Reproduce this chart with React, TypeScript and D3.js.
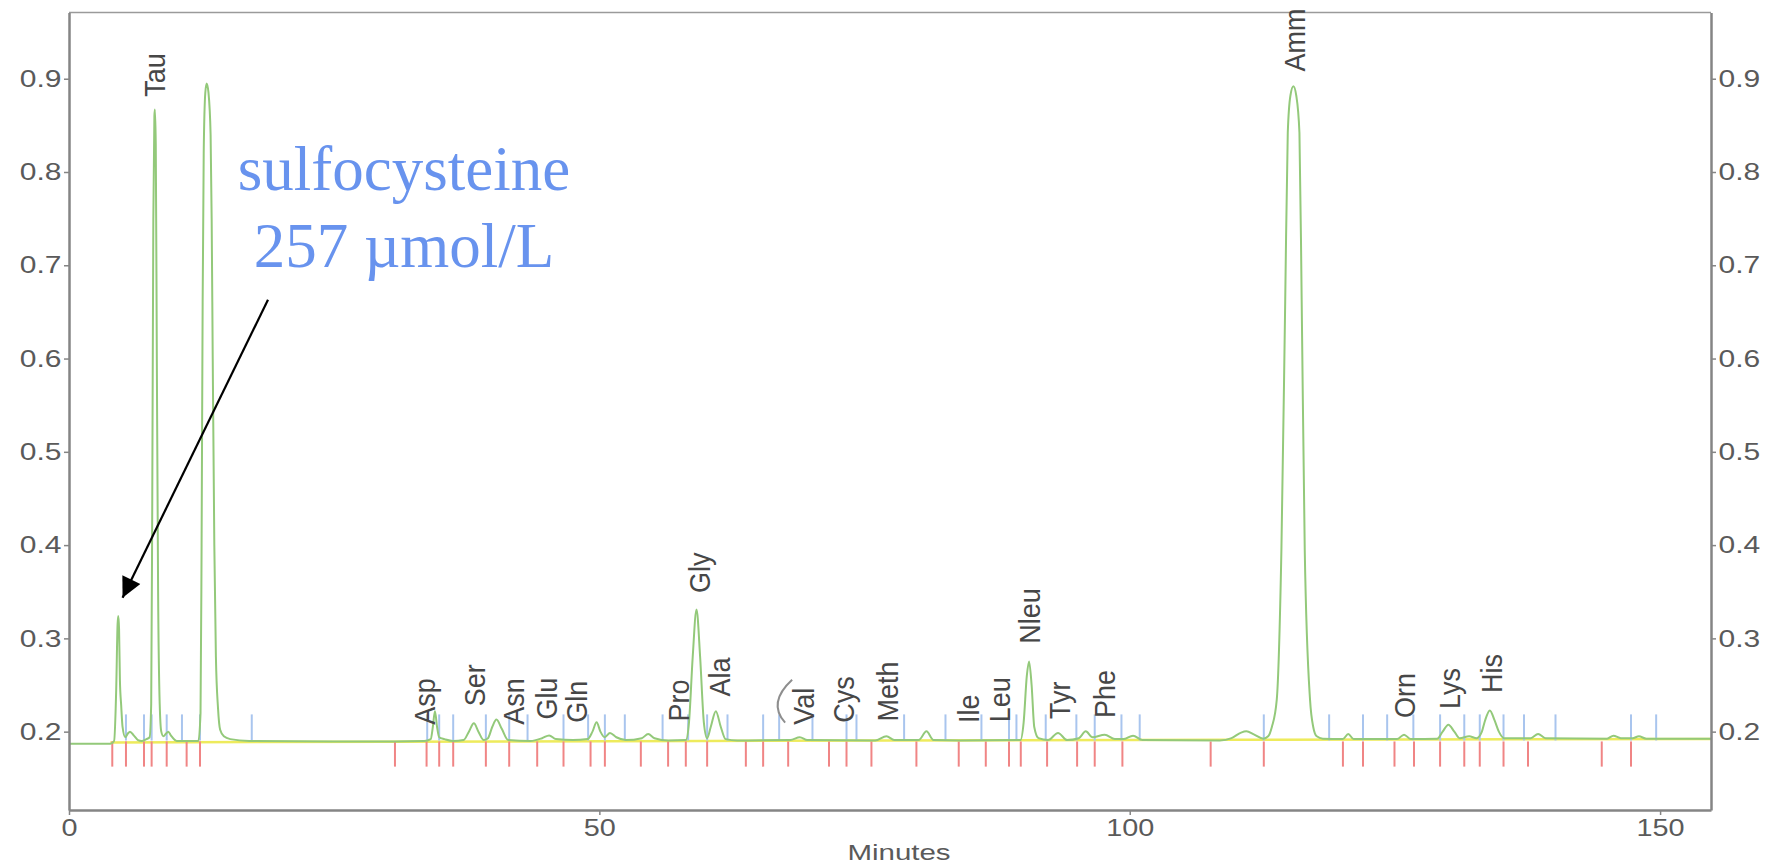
import React, { useEffect, useRef } from "react";
import * as d3 from "d3";

const W = 1776;
const H = 866;

// trace: [minutes, absorbance]
const trace: [number, number][] = [
  [0, 0.187], [3.9, 0.187], [4.25, 0.19], [4.45, 0.245], [4.58, 0.315], [4.65, 0.324],
  [4.72, 0.31], [4.8, 0.255], [4.92, 0.228], [5.05, 0.205], [5.3, 0.194], [5.55, 0.198],
  [5.75, 0.2], [6.1, 0.196], [6.5, 0.191], [6.85, 0.19], [7.3, 0.192], [7.6, 0.194],
  [7.75, 0.23], [7.85, 0.45], [7.95, 0.75], [8.05, 0.86], [8.1, 0.867], [8.18, 0.83],
  [8.28, 0.6], [8.4, 0.35], [8.55, 0.23], [8.7, 0.2], [8.9, 0.195], [9.15, 0.198],
  [9.36, 0.2], [9.6, 0.196], [10.15, 0.19], [12.2, 0.19], [12.4, 0.22], [12.5, 0.4],
  [12.6, 0.66], [12.7, 0.82], [12.85, 0.885], [12.98, 0.895], [13.15, 0.885], [13.35, 0.84],
  [13.45, 0.75], [13.55, 0.6], [13.7, 0.4], [13.85, 0.28], [14.05, 0.225], [14.25, 0.202],
  [14.6, 0.195], [15.2, 0.192], [17, 0.19], [25, 0.1895], [30.7, 0.1895], [33.5, 0.19],
  [34.1, 0.192], [34.3, 0.205], [34.5, 0.222], [34.7, 0.205], [34.9, 0.194], [35.4, 0.192],
  [36.2, 0.19], [37.2, 0.191], [37.7, 0.2], [38.17, 0.209], [38.6, 0.2], [39.1, 0.191],
  [39.5, 0.193], [39.9, 0.205], [40.3, 0.213], [40.8, 0.203], [41.4, 0.191], [43.5, 0.19],
  [44.6, 0.193], [45.27, 0.196], [45.9, 0.192], [47.5, 0.191], [48.9, 0.192], [49.35, 0.2],
  [49.74, 0.21], [50.1, 0.2], [50.5, 0.194], [51.0, 0.1985], [51.6, 0.194], [52.5, 0.191],
  [54.0, 0.193], [54.6, 0.1975], [55.2, 0.193], [56.5, 0.1905], [58.15, 0.191], [58.45, 0.21],
  [58.8, 0.28], [59.16, 0.331], [59.5, 0.28], [59.85, 0.21], [60.16, 0.193], [60.5, 0.205],
  [60.98, 0.222], [61.45, 0.205], [61.9, 0.192], [63, 0.1905], [68, 0.191], [68.9, 0.194],
  [69.6, 0.191], [76, 0.1905], [77.07, 0.195], [77.8, 0.191], [80.1, 0.191], [80.84, 0.2003],
  [81.5, 0.191], [84, 0.1905], [89.7, 0.191], [90.0, 0.21], [90.3, 0.26], [90.51, 0.2753],
  [90.75, 0.25], [91.0, 0.205], [91.4, 0.193], [92.3, 0.191], [93.24, 0.1986], [94.1, 0.191],
  [95.2, 0.193], [95.85, 0.2003], [96.5, 0.194], [97.64, 0.1968], [98.6, 0.192], [99.4, 0.192],
  [100.31, 0.1957], [101.2, 0.191], [108.5, 0.1905], [109.6, 0.193], [110.5, 0.199],
  [111.0, 0.2003], [111.7, 0.197], [112.6, 0.1925], [113.05, 0.195], [113.4, 0.205],
  [113.86, 0.234], [114.3, 0.395], [114.66, 0.663], [114.9, 0.842], [115.15, 0.882],
  [115.43, 0.892], [115.7, 0.882], [116.0, 0.842], [116.21, 0.663], [116.5, 0.395],
  [117.0, 0.234], [117.3, 0.205], [117.63, 0.195], [118.2, 0.1925], [120.1, 0.192],
  [120.6, 0.1975], [121.1, 0.192], [125.2, 0.192], [125.86, 0.1968], [126.5, 0.192],
  [129.0, 0.1925], [129.5, 0.2], [130.04, 0.2075], [130.6, 0.2], [131.1, 0.193], [132.0, 0.195],
  [132.7, 0.193], [133.2, 0.2], [133.5, 0.212], [133.95, 0.2228], [134.4, 0.212], [134.8, 0.2],
  [135.3, 0.193], [137.8, 0.193], [138.5, 0.1975], [139.2, 0.193], [145.0, 0.1925],
  [145.6, 0.1957], [146.3, 0.193], [147.4, 0.193], [148.0, 0.195], [148.7, 0.1925], [154.8, 0.1925],
];

// integrator baseline (yellow)
const baseline: [number, number][] = [
  [3.9, 0.1885], [30, 0.1893], [60, 0.19], [110, 0.1912], [154.8, 0.1922],
];

// peak start / end marks
const redMarks = [
  4.08, 5.37, 7.07, 7.79, 9.21, 11.09, 12.35, 30.73, 33.71, 34.9, 36.22, 39.3, 41.5, 44.14,
  46.62, 49.17, 50.52, 53.91, 56.48, 58.15, 60.16, 63.81, 65.44, 67.8, 71.65, 73.3, 75.65,
  79.89, 83.88, 86.43, 88.62, 89.73, 92.21, 95.04, 96.7, 99.31, 107.63, 112.64, 120.1, 121.99,
  124.96, 126.8, 129.26, 131.54, 133.0, 135.24, 137.55, 144.5, 147.26,
];
const blueMarks = [
  5.37, 7.07, 7.79, 9.21, 10.65, 12.35, 17.23, 33.77, 34.9, 36.22, 39.3, 41.5, 43.23, 46.62,
  48.94, 50.52, 52.4, 55.96, 58.37, 60.16, 62.08, 65.44, 66.95, 70.09, 73.3, 74.24, 78.73,
  82.63, 86.02, 88.62, 89.32, 92.08, 94.97, 96.7, 99.22, 100.94, 112.64, 118.8, 121.99, 124.27,
  126.74, 129.26, 131.54, 133.0, 135.24, 137.17, 140.14, 147.26, 149.63,
];

const peakNames = [
  "Tau", "Asp", "Ser", "Asn", "Glu", "Gln", "Pro", "Gly", "Ala", "Val", "Cys", "Meth",
  "Ile", "Leu", "Nleu", "Tyr", "Phe", "Amm", "Orn", "Lys", "His",
];
const peakLabelTimes = [
  8.1, 33.55, 38.27, 41.88, 45.02, 47.85, 57.43, 59.47, 61.36, 69.21, 72.98, 77.13,
  84.76, 87.68, 90.57, 93.4, 97.64, 115.53, 125.92, 130.12, 134.07,
];
const peakLabelLevels = [
  0.8806, 0.2075, 0.2271, 0.2075, 0.2129, 0.2096, 0.211, 0.3487, 0.2378, 0.2075, 0.2096, 0.211,
  0.2093, 0.21, 0.2943, 0.2136, 0.2147, 0.9077, 0.2147, 0.2243, 0.2415,
];

const yTicks = [0.2, 0.3, 0.4, 0.5, 0.6, 0.7, 0.8, 0.9];
const xTicks = [0, 50, 100, 150];

const noteLines = ["sulfocysteine", "257 \u00b5mol/L"];
const arrowFrom: [number, number] = [18.76, 0.663];
const arrowTo: [number, number] = [5.05, 0.3436];

const sans = "'Liberation Sans', Arial, sans-serif";

const App = () => {
  const ref = useRef<SVGSVGElement>(null);

  useEffect(() => {
    const svg = d3.select(ref.current);
    svg.selectAll("*").remove();

    const x = d3.scaleLinear().domain([0, 154.8]).range([69, 1711]);
    const y = d3.scaleLinear().domain([0.116, 0.971]).range([810, 12.5]);

    svg.append("rect").attr("width", W).attr("height", H).attr("fill", "#fff");

    const defs = svg.append("defs");
    defs.append("marker")
      .attr("id", "arr")
      .attr("viewBox", "0 0 10 10")
      .attr("refX", 10)
      .attr("refY", 5)
      .attr("markerUnits", "userSpaceOnUse")
      .attr("markerWidth", 24)
      .attr("markerHeight", 20)
      .attr("orient", "auto")
      .append("path")
      .attr("d", "M0,0 L10,5 L0,10 z")
      .attr("fill", "#000");

    // frame top
    svg.append("line")
      .attr("x1", x(0)).attr("x2", x(154.8))
      .attr("y1", y(0.971)).attr("y2", y(0.971))
      .attr("stroke", "#9a9a9a").attr("stroke-width", 1.5);

    // integrator baseline
    const line = d3.line<[number, number]>().x(d => x(d[0])).y(d => y(d[1]));
    svg.append("path")
      .datum(baseline)
      .attr("d", line)
      .attr("fill", "none")
      .attr("stroke", "#eeeb5c")
      .attr("stroke-width", 2.5);

    // peak marks
    svg.append("g")
      .attr("stroke", "#f08585")
      .attr("stroke-width", 2)
      .selectAll("line")
      .data(redMarks)
      .enter().append("line")
      .attr("x1", d => x(d)).attr("x2", d => x(d))
      .attr("y1", y(0.1895)).attr("y2", y(0.1625));

    svg.append("g")
      .attr("stroke", "#a9c5ee")
      .attr("stroke-width", 2)
      .selectAll("line")
      .data(blueMarks)
      .enter().append("line")
      .attr("x1", d => x(d)).attr("x2", d => x(d))
      .attr("y1", y(0.2185)).attr("y2", y(0.1905));

    // chromatogram
    svg.append("path")
      .datum(trace)
      .attr("d", line.curve(d3.curveMonotoneX))
      .attr("fill", "none")
      .attr("stroke", "#93c97a")
      .attr("stroke-width", 2);

    // axes
    const styleAxis = (g: any) => {
      g.select(".domain").attr("stroke", "#858585").attr("stroke-width", 2.5);
      g.selectAll(".tick line").attr("stroke", "#858585").attr("stroke-width", 1.5);
      g.selectAll("text")
        .attr("fill", "#5a5a5a")
        .style("font-family", sans)
        .style("font-size", "24px");
    };

    const left = svg.append("g")
      .attr("transform", `translate(${x(0)},0)`)
      .call(d3.axisLeft(y).tickValues(yTicks).tickFormat(d3.format(".1f")).tickSize(5).tickSizeOuter(0).tickPadding(1));
    styleAxis(left);
    left.selectAll("text").attr("transform", "scale(1.25,1)");

    const right = svg.append("g")
      .attr("transform", `translate(${x(154.8)},0)`)
      .call(d3.axisRight(y).tickValues(yTicks).tickFormat(d3.format(".1f")).tickSize(5).tickSizeOuter(0).tickPadding(1));
    styleAxis(right);
    right.selectAll("text").attr("transform", "scale(1.25,1)");

    const bottom = svg.append("g")
      .attr("transform", `translate(0,${y(0.116)})`)
      .call(d3.axisBottom(x).tickValues(xTicks).tickFormat(d3.format("d")).tickSize(5).tickSizeOuter(0).tickPadding(4));
    styleAxis(bottom);
    bottom.selectAll("text").attr("transform", "scale(1.2,1)").attr("x", 0);
    bottom.selectAll(".tick").each(function () {
      const t = d3.select(this);
      const tr = t.attr("transform");
      const m = /translate\(([-\d.]+)/.exec(tr || "");
      if (m) t.select("text").attr("transform", null).attr("x", 0).attr("transform", "scale(1.2,1)").attr("dx", 0);
    });

    svg.append("text")
      .attr("transform", `translate(${(x(0) + x(154.8)) / 2 + 9},860) scale(1.34,1)`)
      .attr("text-anchor", "middle")
      .attr("fill", "#5a5a5a")
      .style("font-family", sans)
      .style("font-size", "22px")
      .text("Minutes");

    // peak names
    svg.append("g")
      .selectAll("text")
      .data(peakNames)
      .enter().append("text")
      .attr("transform", (d, i) => `translate(${x(peakLabelTimes[i])},${y(peakLabelLevels[i])}) scale(1.12,1) rotate(-90)`)
      .attr("dominant-baseline", "central")
      .attr("fill", "#474747")
      .style("font-family", sans)
      .style("font-size", "27px")
      .text(d => d);

    // stray pen mark next to Val
    const vi = peakNames.indexOf("Val");
    const vx = x(peakLabelTimes[vi]);
    const vy = y(peakLabelLevels[vi]);
    svg.append("path")
      .attr("d", `M${vx - 11},${vy - 45} Q${vx - 36},${vy - 22} ${vx - 18},${vy - 2}`)
      .attr("fill", "none")
      .attr("stroke", "#8e8e8e")
      .attr("stroke-width", 2);

    // annotation
    svg.append("g")
      .selectAll("text")
      .data(noteLines)
      .enter().append("text")
      .attr("x", 404)
      .attr("y", (d, i) => 190 + i * 77)
      .attr("text-anchor", "middle")
      .attr("fill", "#6893ee")
      .style("font-family", "'Liberation Serif', 'Times New Roman', serif")
      .style("font-size", "63px")
      .text(d => d);

    svg.append("line")
      .attr("x1", x(arrowFrom[0])).attr("y1", y(arrowFrom[1]))
      .attr("x2", x(arrowTo[0])).attr("y2", y(arrowTo[1]))
      .attr("stroke", "#000")
      .attr("stroke-width", 2.2)
      .attr("marker-end", "url(#arr)");
  }, []);

  return (
    <svg
      ref={ref}
      width={W}
      height={H}
      style={{ position: "absolute", left: 0, top: 0, display: "block" }}
    ></svg>
  );
};

export default App;
